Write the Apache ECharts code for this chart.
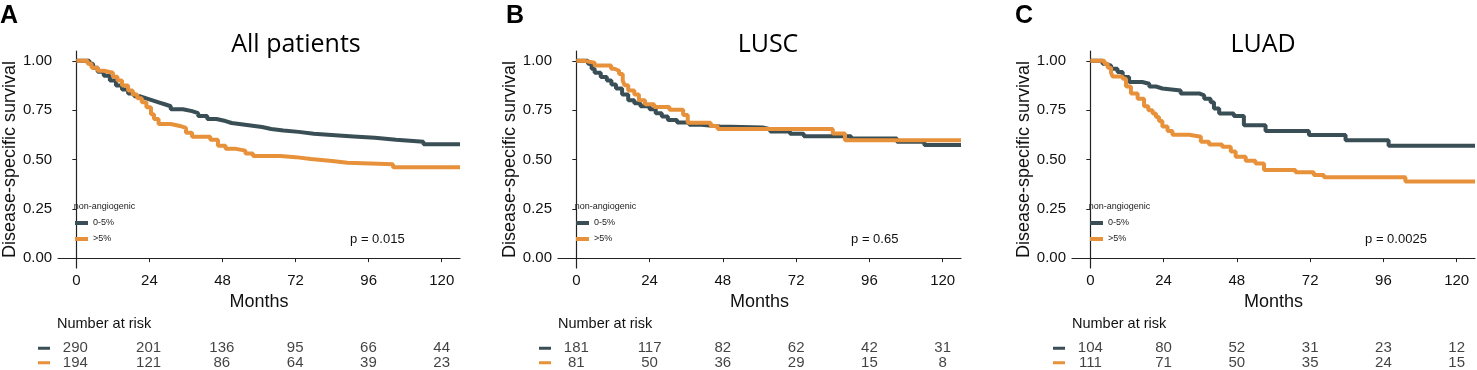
<!DOCTYPE html>
<html>
<head>
<meta charset="utf-8">
<script src="https://cdn.jsdelivr.net/npm/echarts@6/dist/echarts.min.js"></script>
<style>
  html, body { margin: 0; padding: 0; background: #fff; }
  #main { width: 1477px; height: 370px; }
</style>
</head>
<body>
<div id="main"></div>
<script>
  // axis ticks, groups, texts
  var months = [0, 24, 48, 72, 96, 120];
  var survTicks = [0, 0.25, 0.5, 0.75, 1];
  var groups = ['0-5%', '>5%'];
  var titles = ['All patients', 'LUSC', 'LUAD'];
  var letters = ['A', 'B', 'C'];
  var pValues = ['p = 0.015', 'p = 0.65', 'p = 0.0025'];

  // KM steps [month, survival]
  var allLow = [[0,1],[4.3,0.985],[5.5,0.965],[7,0.945],[9,0.925],[11,0.9],[13,0.875],[15,0.855],[17,0.835],[19,0.82],[21,0.81],[23,0.8],[25,0.79],[27,0.78],[29,0.77],[31,0.755],[35,0.745],[38,0.735],[40,0.72],[43,0.705],[46,0.695],[49,0.685],[51,0.675],[56,0.665],[61,0.655],[64,0.647],[68,0.64],[73,0.63],[78,0.623],[85,0.617],[91,0.61],[98,0.6],[105,0.59],[114,0.577],[126,0.577]];
  var allHigh = [[0,1],[3.7,0.985],[5,0.965],[7,0.95],[9,0.94],[12,0.92],[13.5,0.9],[15,0.875],[17,0.85],[18.5,0.83],[20,0.81],[21.5,0.79],[23,0.765],[24.5,0.73],[25.5,0.705],[27,0.68],[31,0.67],[34,0.66],[36,0.635],[38,0.615],[44,0.6],[46.5,0.57],[49,0.555],[52,0.545],[55.5,0.53],[58,0.518],[67,0.512],[72,0.502],[77,0.492],[84,0.484],[89,0.476],[104,0.461],[126,0.461]];
  var luscLow = [[0,1],[3.8,0.985],[5,0.96],[6,0.94],[8,0.918],[10,0.9],[11.5,0.88],[13,0.86],[15,0.83],[17,0.8],[19,0.785],[21,0.77],[24,0.755],[26,0.735],[28,0.718],[30,0.7],[33,0.688],[37,0.676],[41,0.667],[47,0.662],[61,0.653],[63.5,0.642],[70,0.63],[74.5,0.618],[90,0.607],[105,0.59],[114,0.573],[126,0.573]];
  var luscHigh = [[0,1],[2.7,0.99],[6,0.976],[11.4,0.96],[12.5,0.95],[14,0.934],[15.2,0.9],[15.8,0.876],[17,0.85],[19,0.83],[20.5,0.8],[22.5,0.78],[25.5,0.766],[30.5,0.752],[35,0.725],[36.5,0.686],[44,0.67],[46.3,0.655],[84,0.632],[88,0.597],[126,0.595]];
  var luadLow = [[0,1],[4,0.985],[5.1,0.976],[6.8,0.96],[8.9,0.943],[10.6,0.918],[12.7,0.893],[17,0.884],[19.3,0.87],[21.5,0.86],[23.6,0.85],[29.6,0.835],[35.6,0.825],[37.3,0.808],[39.4,0.79],[40.5,0.758],[42.2,0.733],[47,0.72],[50.3,0.674],[57.4,0.645],[71.6,0.624],[83.6,0.598],[97.7,0.57],[126,0.57]];
  var luadHigh = [[0,1],[4.6,0.985],[5.7,0.965],[6.8,0.94],[7.3,0.921],[10.6,0.909],[11.7,0.87],[13.3,0.835],[15.5,0.808],[17.6,0.77],[19,0.75],[20.4,0.733],[21.5,0.715],[22.5,0.695],[23.6,0.667],[25.3,0.645],[26.9,0.625],[32.4,0.615],[36.2,0.59],[38.9,0.576],[43.2,0.565],[46,0.54],[47.6,0.514],[50.9,0.494],[54.1,0.48],[56.9,0.447],[67.2,0.435],[73.2,0.422],[76.5,0.41],[103.2,0.388],[126,0.388]];

  // number at risk at 0,24,...,120
  var allRiskLow = [290, 201, 136, 95, 66, 44];
  var allRiskHigh = [194, 121, 86, 64, 39, 23];
  var luscRiskLow = [181, 117, 82, 62, 42, 31];
  var luscRiskHigh = [81, 50, 36, 29, 15, 8];
  var luadRiskLow = [104, 80, 52, 31, 23, 12];
  var luadRiskHigh = [111, 71, 50, 35, 24, 15];

  var curves = [[allLow, allHigh], [luscLow, luscHigh], [luadLow, luadHigh]];
  var risks = [[allRiskLow, allRiskHigh], [luscRiskLow, luscRiskHigh], [luadRiskLow, luadRiskHigh]];

  var colors = ['#3a4e55', '#e8913b'];
  var font = '"Liberation Sans", Arial, sans-serif';
  var panels = [
    {left: 57, letterX: 0, titleX: 296},
    {left: 558, letterX: 506, titleX: 768},
    {left: 1072, letterX: 1015, titleX: 1263}
  ];
  var W = 403;

  var grid = [], xAxis = [], yAxis = [], series = [], legend = [], graphic = [];

  panels.forEach(function (p, i) {
    grid.push({left: p.left, top: 51, width: W, height: 217});
    xAxis.push({
      type: 'value', gridIndex: i, min: -6, max: 126,
      name: 'Months', nameLocation: 'middle', nameGap: 17,
      nameTextStyle: {fontSize: 18, color: '#111', fontFamily: font},
      splitLine: {show: false},
      axisLine: {lineStyle: {color: '#222', width: 1.2}},
      axisTick: {length: 4, customValues: months, lineStyle: {color: '#222'}},
      axisLabel: {customValues: months, margin: 5, fontSize: 15, color: '#111', fontFamily: font}
    });
    yAxis.push({
      type: 'value', gridIndex: i, min: -0.05, max: 1.05,
      name: 'Disease-specific survival', nameLocation: 'middle', nameGap: 39,
      nameTextStyle: {fontSize: 18, color: '#111', fontFamily: font},
      splitLine: {show: false},
      axisLine: {show: true, lineStyle: {color: '#222', width: 1.2}},
      axisTick: {show: true, length: 4, customValues: survTicks, lineStyle: {color: '#222'}},
      axisLabel: {customValues: survTicks, margin: 6, fontSize: 15, color: '#111', fontFamily: font,
        formatter: function (v) { return v.toFixed(2) }}
    });

    curves[i].forEach(function (d, g) {
      series.push({
        name: groups[g], type: 'line', step: 'end', xAxisIndex: i, yAxisIndex: i,
        data: d, symbol: 'none', color: colors[g],
        lineStyle: {width: 4, color: colors[g]}, itemStyle: {color: colors[g]}
      });
    });

    legend.push({
      data: groups, orient: 'vertical', left: p.left + 18, top: 218, padding: 0,
      icon: 'rect', itemWidth: 13, itemHeight: 4, itemGap: 6, selectedMode: false,
      textStyle: {fontSize: 9, lineHeight: 10, color: '#222', fontFamily: font}
    });

    graphic.push(
      {type: 'text', x: p.letterX, y: 16, style: {text: letters[i], font: 'bold 25px ' + font, fill: '#000', verticalAlign: 'middle'}},
      {type: 'text', x: p.titleX, y: 45, style: {text: titles[i], font: '25px "Open Sans", sans-serif', fill: '#000', align: 'center', verticalAlign: 'middle'}},
      {type: 'text', x: p.left + 16.7, y: 206.5, style: {text: 'non-angiogenic', font: '9px ' + font, fill: '#222', verticalAlign: 'middle'}},
      {type: 'text', x: p.left + 18.3 + 90 * W / 132, y: 239, style: {text: pValues[i], font: '13px ' + font, fill: '#111', verticalAlign: 'middle'}},
      {type: 'text', x: p.left, y: 324, style: {text: 'Number at risk', font: '14.5px ' + font, fill: '#111', verticalAlign: 'middle'}}
    );
  });

  // risk tables share the month scale
  panels.forEach(function (p, i) {
    var gi = 3 + i;
    grid.push({left: p.left, top: 341, width: W, height: 30});
    xAxis.push({type: 'value', gridIndex: gi, min: -6, max: 126, show: false});
    yAxis.push({
      type: 'category', gridIndex: gi, data: groups, inverse: true,
      axisLine: {show: false}, axisTick: {show: false}, splitLine: {show: false},
      axisLabel: {
        margin: 7, interval: 0,
        formatter: function (v, idx) { return idx === 0 ? '{d|}' : '{o|}' },
        rich: {
          d: {width: 12, height: 3, backgroundColor: colors[0]},
          o: {width: 12, height: 3, backgroundColor: colors[1]}
        }
      }
    });
    var data = [];
    risks[i].forEach(function (row, g) {
      row.forEach(function (n, j) { data.push([months[j], groups[g], n]) });
    });
    series.push({
      name: 'risk', type: 'scatter', xAxisIndex: gi, yAxisIndex: gi, data: data,
      symbolSize: 1, itemStyle: {color: 'rgba(0,0,0,0)'}, silent: true,
      label: {show: true, position: 'inside', fontSize: 15, color: '#111', fontFamily: font,
        formatter: function (pr) { return pr.value[2] }}
    });
  });

  var myChart = echarts.init(document.getElementById('main'));
  myChart.setOption({
    animation: false,
    textStyle: {fontFamily: font},
    grid: grid,
    xAxis: xAxis,
    yAxis: yAxis,
    legend: legend,
    graphic: graphic,
    series: series
  });
</script>
</body>
</html>
